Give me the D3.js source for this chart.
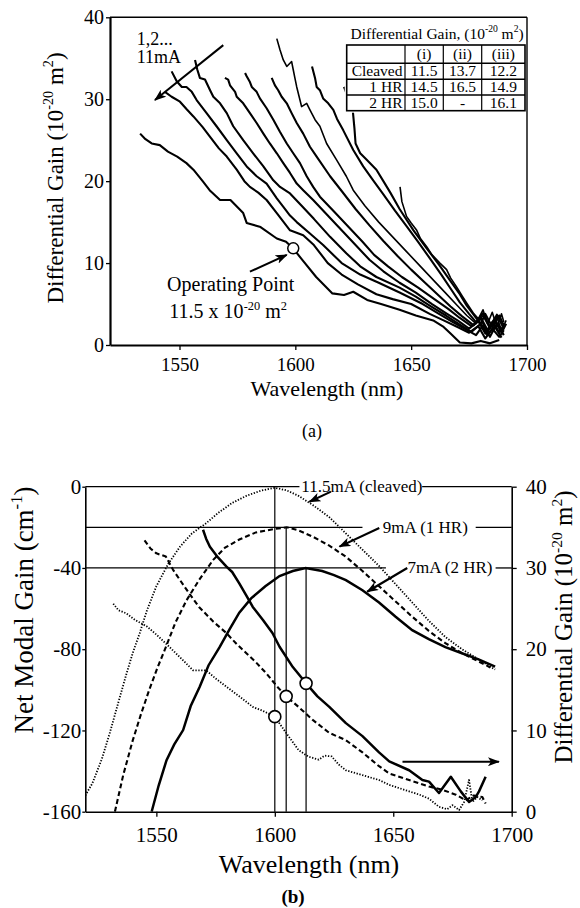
<!DOCTYPE html>
<html>
<head>
<meta charset="utf-8">
<script src="https://cdn.jsdelivr.net/npm/d3@7"></script>
<style>
    body { margin: 0; background: #fff; }
    svg { display: block; font-family: 'Liberation Serif', 'Times New Roman', 'DejaVu Serif', serif; }
</style>
</head>
<body>
<svg id="fig" width="580" height="908"></svg>
<script>
// ---- shared tick values ----
const wavelengthTicks = [1550, 1600, 1650, 1700];
const diffGainTicks = [0, 10, 20, 30, 40];
const netGainTicks = [0, -40, -80, -120, -160];

// ---- panel (a): differential gain vs wavelength, 1..11 mA, [nm, 1e-20 m2] ----
const current1mA = [[1645.2,19.3],[1646,17.5],[1648,15.7],[1650,14.9],[1652.4,14.0],[1654,13.0],[1656.7,12.0],[1659,11.0],[1662.4,10.0],[1665.3,9.2],[1667,8.2],[1669.6,7.1],[1672,6.0],[1674,5.1],[1676.8,3.9],[1679,3.2],[1681,4.3],[1683,2.6],[1685,4.0],[1687,2.2],[1689,3.8],[1690,2.8]];
const current2mA = [[1621,31.5],[1623,30.0],[1624.8,28.6],[1625.5,26.5],[1626,24.6],[1628,23.4],[1630.8,22.6],[1635,21.4],[1638,20.0],[1641,18.6],[1645,16.6],[1651,14.0],[1656.7,11.8],[1662,9.8],[1667,7.8],[1671,6.2],[1674,4.8],[1678,3.3],[1680,2.6],[1682,3.8],[1685,2.2],[1688,3.6],[1690,2.4]];
const current3mA = [[1607.2,34.0],[1608.5,32.6],[1609.2,31.5],[1610.6,31.1],[1612,30.1],[1614.2,29.5],[1616.4,28.7],[1618,27.6],[1620.7,26.2],[1625,23.8],[1629.3,21.8],[1633.6,20.1],[1638,18.4],[1643,16.4],[1648,14.5],[1653,12.6],[1658,10.6],[1663,8.6],[1667,6.9],[1671,5.2],[1675,3.8],[1678,2.8],[1681,3.9],[1684,2.2],[1687,3.7],[1690,2.0]];
const current4mA = [[1592,37.4],[1593.4,36.0],[1594.8,34.8],[1596.3,34.0],[1598.4,34.6],[1599.1,33.6],[1599.8,32.6],[1600.6,31.5],[1602,29.9],[1602.7,29.1],[1604.9,29.5],[1606.3,28.7],[1608.5,27.5],[1610.6,26.7],[1613.5,24.6],[1617.8,22.6],[1622,20.6],[1625,18.9],[1630,17.0],[1636,15.0],[1642,13.2],[1648,11.4],[1654,9.6],[1660,7.8],[1665,6.3],[1670,4.8],[1674,3.6],[1678,2.6],[1681,3.6],[1684,2.0],[1687,3.4],[1689,1.8],[1691,3.0]];
const current5mA = [[1589.8,32.6],[1591.2,31.7],[1592.6,31.1],[1594.1,30.3],[1596.3,29.5],[1598.4,28.3],[1600.6,27.1],[1603.4,25.8],[1606.3,24.2],[1609.2,23.0],[1615,20.6],[1620,18.8],[1626,16.6],[1632,14.6],[1638,12.7],[1644,10.9],[1650,9.2],[1656,7.6],[1662,6.0],[1667,4.7],[1672,3.5],[1677,2.4],[1680,3.4],[1683,1.8],[1686,3.2],[1689,1.5],[1691,2.6]];
const current6mA = [[1578.3,33.2],[1579,32.8],[1580.4,32.1],[1581.2,31.5],[1583.3,30.9],[1584.7,30.1],[1587.6,28.9],[1590.5,27.5],[1593.4,26.0],[1596.3,24.6],[1599.1,23.4],[1602,22.2],[1604.9,20.6],[1607.7,19.3],[1610.6,18.1],[1617,16.2],[1623,14.4],[1629,12.6],[1634,11.0],[1640,9.6],[1646,8.3],[1653,7.0],[1660,5.6],[1666,4.4],[1671,3.3],[1676,2.3],[1680,3.2],[1683,1.6],[1686,3.0],[1689,1.8]];
const current7mA = [[1569.6,32.6],[1571,32.4],[1571.8,31.7],[1574,30.9],[1574.7,30.3],[1577.5,29.5],[1580.4,28.3],[1583.3,27.1],[1586.2,25.8],[1589,24.6],[1592,23.4],[1594.8,22.2],[1597.7,21.0],[1600.6,19.7],[1603.4,18.9],[1607.7,17.7],[1614,15.8],[1620,14.0],[1626,12.2],[1632,10.4],[1638,9.0],[1645,7.6],[1652,6.4],[1659,5.0],[1665,3.9],[1670,3.0],[1675,2.0],[1679,2.9],[1682,1.4],[1685,2.8],[1688,1.6],[1690,2.4]];
const current8mA = [[1556.7,34.8],[1557.7,33.6],[1558.8,32.6],[1561,32.4],[1563.2,31.1],[1564.6,30.3],[1567.5,29.5],[1570.4,28.3],[1573.2,26.7],[1577.5,25.0],[1581.8,23.4],[1586.2,21.8],[1590.5,20.1],[1593.4,19.3],[1597.7,18.5],[1602,17.2],[1608,15.4],[1615,13.2],[1622,11.2],[1628,9.6],[1635,8.3],[1645,7.0],[1652,5.9],[1658,4.8],[1665,3.6],[1671,2.5],[1676,1.6],[1680,2.6],[1683,1.2],[1686,2.3],[1689,0.9]];
const current9mA = [[1546.6,33.4],[1548.8,32.2],[1551,31.5],[1553,31.5],[1555.3,30.9],[1557.4,29.9],[1561.7,28.3],[1566,26.7],[1570.4,25.0],[1574.7,23.4],[1579,21.8],[1583.3,20.6],[1587.6,19.7],[1592,17.9],[1595,16.8],[1597.7,15.8],[1600.6,15.0],[1606.3,13.6],[1612,12.2],[1620,10.0],[1628,8.6],[1636,7.6],[1645,6.4],[1655,5.0],[1662,3.8],[1668,2.8],[1673,2.0],[1678,1.2],[1681,2.4],[1684,1.0],[1687,2.6],[1690,1.2]];
const current10mA = [[1543.7,30.9],[1546.6,30.3],[1550.2,29.7],[1553,28.8],[1556,27.9],[1560,26.6],[1563.2,25.4],[1567,24.0],[1570.4,23.0],[1574.7,21.4],[1578,20.0],[1580.4,19.3],[1584,18.6],[1587.6,17.7],[1592,16.1],[1597.7,14.0],[1603.4,13.4],[1608,12.2],[1614,10.0],[1620,8.6],[1627,7.4],[1635,6.2],[1642,5.6],[1650,5.0],[1658,3.8],[1664,3.0],[1670,2.2],[1675,1.5],[1679,2.3],[1682,0.8],[1685,2.0],[1688,1.0],[1690,1.8]];
const current11mA = [[1533,25.8],[1535,25.2],[1538,24.6],[1541.5,24.4],[1545,23.6],[1549,23.0],[1553,22.2],[1556,21.4],[1560,20.0],[1563,18.9],[1567.5,17.7],[1572,17.7],[1577.5,16.1],[1579,14.9],[1585,14.4],[1592,13.0],[1596,12.6],[1599,11.8],[1603,10.4],[1609,8.3],[1616,6.3],[1621,6.1],[1625,6.5],[1631,5.5],[1637,5.0],[1645,4.3],[1652,3.6],[1659.5,3.0],[1664,2.2],[1667,1.4],[1671,0.3],[1676,0.2],[1680,0.5],[1684,0.2],[1688,0.6]];
const currentTraces = [current1mA, current2mA, current3mA, current4mA, current5mA, current6mA,
    current7mA, current8mA, current9mA, current10mA, current11mA];

const operatingPointA = [1599.1, 11.8];

// inset table
const tableColumns = ['(i)', '(ii)', '(iii)'];
const tableRows = ['Cleaved', '1 HR', '2 HR'];
const tableValues = [['11.5', '13.7', '12.2'], ['14.5', '16.5', '14.9'], ['15.0', '-', '16.1']];

// ---- panel (b): net modal gain (cm-1) and differential gain (1e-20 m2) ----
const netGainCleaved = [[1520,-152],[1523,-146],[1527,-134],[1530.4,-121],[1534,-106],[1537.4,-92],[1540,-82],[1543,-72],[1546,-61],[1550,-49],[1555,-38],[1560,-29.5],[1565,-23],[1571,-18],[1576,-13],[1582,-8],[1588,-4.5],[1594,-2],[1600,-0.5],[1605,-1.8],[1610,-4.5],[1616,-9],[1623,-15],[1630,-23],[1637,-31],[1644,-39],[1651,-48],[1658,-57],[1665,-66],[1672,-74],[1679,-80],[1686,-85],[1693,-90]];
const netGain1HR = [[1532.5,-160],[1536,-142],[1540,-125],[1543.5,-112],[1547,-100],[1550.5,-89],[1554,-79],[1558,-67],[1562.7,-56],[1568,-46],[1574,-36],[1579,-30],[1585,-26],[1592,-22.5],[1600,-20.8],[1605,-20],[1610,-21.5],[1616,-24.6],[1623,-29],[1630,-34.5],[1637,-41.5],[1644,-49],[1651,-56.5],[1658,-64],[1665,-71],[1672,-77],[1679,-82],[1686,-86],[1691,-89]];
const netGain2HR = [[1548,-160],[1551,-147],[1554.3,-134.6],[1557.5,-127],[1561.3,-119.8],[1564.5,-108],[1568.3,-98.5],[1572,-88],[1576.7,-79],[1581,-70],[1585,-62],[1590,-55],[1596,-49],[1602,-44],[1607.6,-41.5],[1613,-40],[1620,-41.5],[1625,-43.5],[1630,-46],[1637,-51],[1644,-57],[1651,-64],[1658,-70.6],[1665,-75],[1672,-79],[1679,-82],[1686,-85],[1693,-88.6]];
const diffGainCleaved = [[1531.8,25.6],[1534,24.8],[1537.4,24.4],[1541,23.6],[1546,22.8],[1550,21.8],[1554,20.7],[1560,19.0],[1565.5,17.4],[1571,17.4],[1575,16.4],[1579.5,15.4],[1585,14.2],[1590.7,12.9],[1595,12.4],[1600,11.7],[1605,9.6],[1610,7.6],[1614,6.8],[1618.5,6.4],[1621,6.9],[1624,6.8],[1627,5.8],[1630,5.1],[1637,4.5],[1644,3.9],[1648.3,3.3],[1656.7,2.5],[1661,2.1],[1665.1,1.6],[1669.3,0.6],[1672.8,0.3],[1675,0.8],[1677.8,0.2],[1679.9,1.2],[1682,3.9],[1683.4,1.2],[1685.5,1.8],[1687.6,1.4]];
const diffGain1HR = [[1545,33.4],[1547.5,32.4],[1550,31.8],[1554,31.4],[1557,29.8],[1560,28.5],[1564,26.8],[1568,25.2],[1574,23.4],[1579.5,22.0],[1584,20.6],[1588,19.5],[1592,18.4],[1596.5,17.0],[1601,15.4],[1604.8,14.2],[1610,12.9],[1616,11.3],[1623,9.7],[1630,8.8],[1637,7.3],[1644,5.6],[1648.3,4.7],[1656.7,3.9],[1665.1,3.1],[1670.7,2.7],[1676.4,2.1],[1680.6,1.4],[1684,2.0],[1687.6,1.8],[1689,1.0]];
const diffGain2HR = [[1569.7,34.7],[1571,33.6],[1572.6,32.6],[1576,31.3],[1579.5,30.2],[1582,29.5],[1585,28.1],[1588,26.6],[1590.7,25.2],[1595,23.6],[1599,22.0],[1602,20.3],[1607.6,17.8],[1613.2,15.8],[1618,14.2],[1623,12.9],[1630,10.9],[1637,9.3],[1644,7.3],[1648.3,6.2],[1656.7,5.1],[1662.3,3.9],[1665.1,3.7],[1669.3,2.3],[1674.3,4.3],[1678.5,2.5],[1682,1.2],[1684.8,1.8],[1686.2,2.5],[1689,4.3]];

const peakWavelengths = [1600, 1604.8, 1613.2];
const peakGains = [0, -20, -40];
const operatingPointsB = [[1600, 11.7], [1604.8, 14.2], [1613.2, 15.8]];
const curveLabels = ['11.5mA (cleaved)', '9mA (1 HR)', '7mA (2 HR)'];
const labelStarts = [1611.2, 1645.6, 1656];
const lineGaps = [[1610.4, 1662.2], [1637, 1684.8], [1646.9, 1693.2]];

const serif = "'Liberation Serif', 'Times New Roman', 'DejaVu Serif', serif";
const svg = d3.select('#fig');

// panel frames in pixels
const panelA = { left: 110, right: 527, top: 17.3, bottom: 345 };
const panelB = { left: 85.3, right: 511.7, top: 486.7, bottom: 811.7 };

const xA = d3.scaleLinear().domain([1520, 1700]).range([panelA.left, panelA.right]);
const yA = d3.scaleLinear().domain([0, 40]).range([panelA.bottom, panelA.top]);
const xB = d3.scaleLinear().domain([1520, 1700]).range([panelB.left, panelB.right]);
const yB = d3.scaleLinear().domain([-160, 0]).range([panelB.bottom, panelB.top]);
const yB2 = d3.scaleLinear().domain([0, 40]).range([panelB.bottom, panelB.top]);

const defs = svg.append('defs');
defs.append('marker')
    .attr('id', 'head')
    .attr('markerUnits', 'userSpaceOnUse')
    .attr('markerWidth', 12).attr('markerHeight', 9)
    .attr('refX', 11).attr('refY', 4.5)
    .attr('orient', 'auto')
    .append('path').attr('d', 'M0,0 L12,4.5 L0,9 L3,4.5 Z').attr('fill', '#000');

function addClip(id, p) {
    defs.append('clipPath').attr('id', id)
        .append('rect')
        .attr('x', p.left).attr('y', p.top)
        .attr('width', p.right - p.left).attr('height', p.bottom - p.top);
}
addClip('clipA', panelA);
addClip('clipB', panelB);

// text with superscript parts: parts = [[string, isSup], ...]
function richText(node, parts, size) {
    let raised = false;
    node.attr('font-family', serif);
    parts.forEach(([t, sup]) => {
        const ts = node.append('tspan').text(t);
        if (sup) {
            ts.attr('font-size', size * 0.62).attr('dy', raised ? 0 : -size * 0.42);
            raised = true;
        } else {
            ts.attr('dy', raised ? size * 0.42 : 0);
            raised = false;
        }
    });
    return node;
}

function plainText(g, str, x, y, size, anchor) {
    return g.append('text').text(str)
        .attr('x', x).attr('y', y)
        .attr('font-family', serif).attr('font-size', size)
        .attr('text-anchor', anchor || 'start');
}

function arrow(g, x, y, from, to, width) {
    g.append('line')
        .attr('x1', x(from[0])).attr('y1', y(from[1]))
        .attr('x2', x(to[0])).attr('y2', y(to[1]))
        .attr('stroke', '#000').attr('stroke-width', width)
        .attr('marker-end', 'url(#head)');
}

function styleAxis(g, size, width) {
    g.attr('font-family', serif);
    g.selectAll('.domain').attr('stroke-width', width);
    g.selectAll('.tick line').attr('stroke-width', 1.3);
    g.selectAll('text')
        .attr('font-family', serif)
        .attr('font-size', size).attr('fill', '#000');
}

// ================= panel (a) =================
function drawPanelA() {
    const g = svg.append('g');
    const line = d3.line().x((d) => xA(d[0])).y((d) => yA(d[1]));

    g.append('g').attr('clip-path', 'url(#clipA)')
        .selectAll('path').data(currentTraces).enter()
        .append('path')
        .attr('d', line)
        .attr('fill', 'none')
        .attr('stroke', '#000')
        .attr('stroke-width', (d, i) => (i === 0 || i === 3 ? 1.6 : 2.1))
        .attr('stroke-linejoin', 'round');

    // inset table (white box covers the traces behind it)
    const t = { left: 346.7, cols: [405, 443.3, 481.7], right: 525, rows: [45, 63.3, 79.3, 95, 110.7] };
    const tg = g.append('g');
    tg.append('rect')
        .attr('x', t.left - 2).attr('y', 22)
        .attr('width', t.right - t.left + 4).attr('height', t.rows[4] - 22 + 2)
        .attr('fill', '#fff');
    tg.append('rect')
        .attr('x', t.left).attr('y', t.rows[0])
        .attr('width', t.right - t.left).attr('height', t.rows[4] - t.rows[0])
        .attr('fill', 'none').attr('stroke', '#000').attr('stroke-width', 1.6);
    t.rows.slice(1, 4).forEach((ry) => {
        tg.append('line').attr('x1', t.left).attr('x2', t.right).attr('y1', ry).attr('y2', ry)
            .attr('stroke', '#000').attr('stroke-width', 1.4);
    });
    t.cols.forEach((cx) => {
        tg.append('line').attr('x1', cx).attr('x2', cx).attr('y1', t.rows[0]).attr('y2', t.rows[4])
            .attr('stroke', '#000').attr('stroke-width', 1.2);
    });
    richText(tg.append('text').attr('x', 350.5).attr('y', 38.5).attr('font-size', 15.5),
        [['Differential Gain, (10', false], ['-20', true], [' m', false], ['2', true], [')', false]], 15.5);
    const colEdges = [t.left, ...t.cols, t.right];
    tableColumns.forEach((c, j) => {
        plainText(tg, c, (colEdges[j + 1] + colEdges[j + 2]) / 2, (t.rows[0] + t.rows[1]) / 2 + 5, 15.5, 'middle');
    });
    tableRows.forEach((r, i) => {
        const cy = (t.rows[i + 1] + t.rows[i + 2]) / 2 + 5;
        plainText(tg, r, t.cols[0] - 2.5, cy, 15.5, 'end');
        tableValues[i].forEach((v, j) => {
            plainText(tg, v, (colEdges[j + 1] + colEdges[j + 2]) / 2, cy, 15.5, 'middle');
        });
    });

    // operating point
    g.append('circle')
        .attr('cx', xA(operatingPointA[0])).attr('cy', yA(operatingPointA[1])).attr('r', 5.5)
        .attr('fill', '#fff').attr('stroke', '#000').attr('stroke-width', 1.5);

    // annotations
    arrow(g, xA, yA, [1568.9, 36.6], [1539.4, 29.9], 2);
    arrow(g, xA, yA, [1580.4, 8.95], [1596.3, 11.0], 2);
    plainText(g, '1,2...', xA(1531.5), yA(36.6), 18);
    plainText(g, '11mA', xA(1531.5), yA(34.4), 18);
    plainText(g, 'Operating Point', xA(1572.1), yA(6.6), 20, 'middle');
    richText(g.append('text').attr('x', xA(1571)).attr('y', yA(3.26)).attr('text-anchor', 'middle').attr('font-size', 20),
        [['11.5 x 10', false], ['-20', true], [' m', false], ['2', true]], 20);

    // frame and axes
    g.append('line').attr('x1', panelA.left).attr('x2', panelA.right).attr('y1', panelA.top).attr('y2', panelA.top)
        .attr('stroke', '#000').attr('stroke-width', 1.6);
    g.append('line').attr('x1', panelA.right).attr('x2', panelA.right).attr('y1', panelA.top).attr('y2', panelA.bottom)
        .attr('stroke', '#000').attr('stroke-width', 1.4);
    const xAxis = g.append('g').attr('transform', `translate(0,${panelA.bottom})`)
        .call(d3.axisBottom(xA).tickValues(wavelengthTicks).tickFormat(d3.format('d'))
            .tickSize(5).tickPadding(8).tickSizeOuter(0));
    styleAxis(xAxis, 19, 2.2);
    const yAxis = g.append('g').attr('transform', `translate(${panelA.left},0)`)
        .call(d3.axisLeft(yA).tickValues(diffGainTicks).tickSize(4).tickPadding(2).tickSizeOuter(0));
    styleAxis(yAxis, 20, 2.2);

    richText(g.append('text').attr('transform', 'translate(63,178) rotate(-90)')
        .attr('text-anchor', 'middle').attr('font-size', 23),
        [['Differential Gain  (10', false], ['-20', true], [' m', false], ['2', true], [')', false]], 23);
    plainText(g, 'Wavelength  (nm)', 327, 396, 22, 'middle');
    plainText(g, '(a)', 312, 437, 18, 'middle');
}

// ================= panel (b) =================
function drawPanelB() {
    const g = svg.append('g');
    const netLine = d3.line().x((d) => xB(d[0])).y((d) => yB(d[1]));
    const diffLine = d3.line().x((d) => xB(d[0])).y((d) => yB2(d[1]));

    // reference lines at the gain peaks
    peakGains.forEach((pg, i) => {
        const yy = yB(pg);
        g.append('line').attr('x1', panelB.left).attr('x2', xB(lineGaps[i][0])).attr('y1', yy).attr('y2', yy)
            .attr('stroke', '#000').attr('stroke-width', 1.3);
        g.append('line').attr('x1', xB(lineGaps[i][1])).attr('x2', panelB.right).attr('y1', yy).attr('y2', yy)
            .attr('stroke', '#000').attr('stroke-width', 1.3);
        g.append('line').attr('x1', xB(peakWavelengths[i])).attr('x2', xB(peakWavelengths[i]))
            .attr('y1', yy).attr('y2', panelB.bottom)
            .attr('stroke', '#000').attr('stroke-width', 1.2);
    });

    const styles = [
        { dash: '1.3,1.6', width: 1.8 },
        { dash: '5,3', width: 2.1 },
        { dash: null, width: 2.5 }
    ];
    const plot = g.append('g').attr('clip-path', 'url(#clipB)');
    [netGainCleaved, netGain1HR, netGain2HR].forEach((d, i) => {
        plot.append('path').attr('d', netLine(d))
            .attr('fill', 'none').attr('stroke', '#000')
            .attr('stroke-width', styles[i].width).attr('stroke-dasharray', styles[i].dash);
    });
    [diffGainCleaved, diffGain1HR, diffGain2HR].forEach((d, i) => {
        plot.append('path').attr('d', diffLine(d))
            .attr('fill', 'none').attr('stroke', '#000').attr('stroke-linejoin', 'round')
            .attr('stroke-width', styles[i].width).attr('stroke-dasharray', styles[i].dash);
    });

    g.selectAll('circle.op').data(operatingPointsB).enter()
        .append('circle')
        .attr('cx', (d) => xB(d[0])).attr('cy', (d) => yB2(d[1])).attr('r', 6)
        .attr('fill', '#fff').attr('stroke', '#000').attr('stroke-width', 1.6);

    // curve labels and arrows
    curveLabels.forEach((lbl, i) => {
        plainText(g, lbl, xB(labelStarts[i]), yB(peakGains[i]) + 5.5, 17);
    });
    arrow(g, xB, yB, [1623.7, -2.46], [1614.6, -7.4], 2);
    arrow(g, xB, yB, [1644.1, -20.3], [1627.3, -29.5], 2.2);
    arrow(g, xB, yB, [1655.9, -40], [1639, -51.7], 2.2);
    arrow(g, xB, yB2, [1653.9, 6.15], [1694.6, 6.15], 1.8);

    // axes
    const xAxis = g.append('g').attr('transform', `translate(0,${panelB.bottom})`)
        .call(d3.axisBottom(xB).tickValues(wavelengthTicks).tickFormat(d3.format('d'))
            .tickSize(5).tickPadding(10).tickSizeOuter(0));
    styleAxis(xAxis, 21, 1.6);
    const yAxis = g.append('g').attr('transform', `translate(${panelB.left},0)`)
        .call(d3.axisLeft(yB).tickValues(netGainTicks).tickSize(3).tickPadding(1).tickSizeOuter(0)
            .tickFormat((d) => String(d)));
    styleAxis(yAxis, 21, 1.6);
    const y2Axis = g.append('g').attr('transform', `translate(${panelB.right},0)`)
        .call(d3.axisRight(yB2).tickValues(diffGainTicks).tickSize(5).tickPadding(9).tickSizeOuter(0));
    styleAxis(y2Axis, 21, 1.6);

    richText(g.append('text').attr('transform', 'translate(33,610) rotate(-90)')
        .attr('text-anchor', 'middle').attr('font-size', 27),
        [['Net Modal Gain  (cm', false], ['-1', true], [')', false]], 27);
    richText(g.append('text').attr('transform', 'translate(572,627) rotate(-90)')
        .attr('text-anchor', 'middle').attr('font-size', 25),
        [['Differential Gain (10', false], ['-20', true], [' m', false], ['2', true], [')', false]], 25);
    plainText(g, 'Wavelength  (nm)', 309, 873, 26, 'middle');
    plainText(g, '(b)', 293, 903, 19, 'middle').attr('font-weight', 'bold');
}

drawPanelA();
drawPanelB();
</script>
</body>
</html>
